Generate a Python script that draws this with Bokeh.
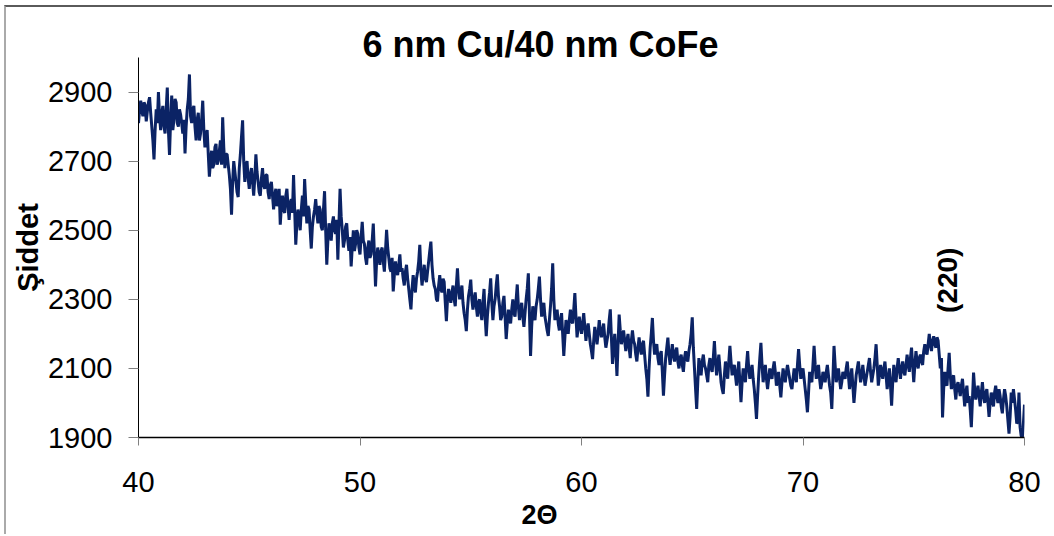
from bokeh.plotting import figure
from bokeh.models import Label, FixedTicker, Range1d, Title
from bokeh.embed import file_html
from bokeh.resources import INLINE
import math

title_text = "6 nm Cu/40 nm CoFe"
x_label = "2\u0398"
y_label = "\u015eiddet"
peak_label = "(220)"
peak_pos = (76.52, 2355)

x_ticks = [40, 50, 60, 70, 80]
y_ticks = [1900, 2100, 2300, 2500, 2700, 2900]

two_theta_start = 40.0
two_theta_step = 0.05

intensity = [
    2810, 2850, 2875, 2845, 2830, 2870, 2862, 2815, 2845, 2870, 2885, 2840, 2800, 2760, 2705, 2790, 2850, 2810, 2900, 2830,  # 40
    2790, 2840, 2860, 2800, 2780, 2850, 2913, 2790, 2718, 2820, 2890, 2790, 2820, 2880, 2870, 2810, 2800, 2850, 2835, 2810,  # 41
    2780, 2820, 2722, 2800, 2850, 2880, 2951, 2830, 2810, 2850, 2860, 2800, 2760, 2820, 2840, 2760, 2780, 2820, 2875, 2790,  # 42
    2740, 2770, 2790, 2720, 2655, 2700, 2730, 2680, 2690, 2740, 2750, 2690, 2700, 2730, 2760, 2690, 2827, 2740, 2680, 2720,  # 43
    2720, 2690, 2660, 2620, 2545, 2640, 2700, 2670, 2640, 2610, 2596, 2680, 2720, 2770, 2818, 2700, 2640, 2690, 2700, 2650,  # 44
    2620, 2660, 2680, 2640, 2600, 2650, 2720, 2670, 2640, 2610, 2600, 2650, 2680, 2630, 2620, 2660, 2660, 2610, 2590, 2630,  # 45
    2640, 2600, 2560, 2600, 2620, 2570, 2580, 2620, 2516, 2570, 2600, 2560, 2550, 2600, 2620, 2570, 2530, 2580, 2590, 2550,  # 46
    2660, 2560, 2458, 2520, 2560, 2530, 2500, 2560, 2600, 2540, 2648, 2580, 2520, 2570, 2560, 2500, 2447, 2510, 2540, 2560,  # 47
    2590, 2550, 2520, 2570, 2560, 2510, 2500, 2560, 2613, 2500, 2400, 2470, 2520, 2500, 2470, 2520, 2540, 2500, 2490, 2530,  # 48
    2415, 2520, 2620, 2540, 2500, 2450, 2470, 2510, 2520, 2470, 2440, 2480, 2395, 2450, 2500, 2440, 2460, 2500, 2490, 2450,  # 49
    2430, 2480, 2524, 2470, 2460, 2420, 2400, 2450, 2470, 2420, 2430, 2470, 2519, 2430, 2337, 2410, 2450, 2420, 2400, 2440,  # 50
    2450, 2410, 2380, 2440, 2501, 2450, 2420, 2390, 2380, 2420, 2323, 2370, 2410, 2380, 2370, 2400, 2430, 2380, 2390, 2360,  # 51
    2340, 2380, 2400, 2360, 2330, 2300, 2271, 2330, 2370, 2340, 2320, 2360, 2380, 2410, 2458, 2380, 2340, 2370, 2400, 2360,  # 52
    2350, 2380, 2410, 2440, 2467, 2400, 2360, 2340, 2330, 2300, 2294, 2340, 2370, 2330, 2320, 2360, 2350, 2290, 2237, 2300,  # 53
    2330, 2310, 2290, 2320, 2340, 2300, 2280, 2340, 2390, 2330, 2300, 2320, 2340, 2290, 2260, 2240, 2208, 2270, 2310, 2330,  # 54
    2357, 2300, 2270, 2300, 2320, 2280, 2250, 2290, 2300, 2260, 2240, 2290, 2330, 2250, 2193, 2250, 2290, 2320, 2361, 2290,  # 55
    2240, 2280, 2300, 2340, 2372, 2310, 2280, 2240, 2250, 2290, 2310, 2250, 2185, 2230, 2270, 2250, 2230, 2270, 2300, 2260,  # 56
    2250, 2300, 2343, 2280, 2240, 2270, 2290, 2250, 2220, 2260, 2300, 2330, 2375, 2260, 2136, 2220, 2280, 2250, 2240, 2280,  # 57
    2300, 2330, 2366, 2300, 2250, 2270, 2290, 2250, 2230, 2210, 2194, 2240, 2280, 2330, 2404, 2300, 2240, 2260, 2270, 2230,  # 58
    2210, 2240, 2260, 2200, 2136, 2190, 2240, 2220, 2200, 2240, 2270, 2240, 2230, 2270, 2318, 2250, 2190, 2220, 2250, 2220,  # 59
    2200, 2230, 2260, 2220, 2180, 2210, 2230, 2200, 2170, 2150, 2127, 2180, 2220, 2200, 2170, 2200, 2240, 2210, 2190, 2210,  # 60
    2230, 2190, 2160, 2180, 2200, 2240, 2271, 2190, 2113, 2160, 2200, 2150, 2078, 2170, 2256, 2210, 2170, 2190, 2210, 2180,  # 61
    2150, 2180, 2200, 2160, 2130, 2180, 2210, 2180, 2170, 2140, 2120, 2160, 2190, 2160, 2140, 2170, 2180, 2140, 2100, 2070,  # 62
    2018, 2100, 2160, 2200, 2246, 2180, 2140, 2160, 2170, 2130, 2110, 2140, 2150, 2090, 2021, 2080, 2130, 2160, 2189, 2140,  # 63
    2110, 2140, 2170, 2140, 2120, 2150, 2160, 2120, 2100, 2130, 2140, 2110, 2090, 2130, 2150, 2130, 2120, 2150, 2170, 2200,  # 64
    2248, 2160, 2100, 2040, 1983, 2060, 2130, 2100, 2080, 2120, 2140, 2110, 2100, 2080, 2060, 2110, 2130, 2100, 2090, 2130,  # 65
    2179, 2120, 2080, 2110, 2140, 2100, 2060, 2040, 2026, 2080, 2120, 2090, 2070, 2120, 2165, 2120, 2080, 2100, 2110, 2080,  # 66
    2050, 2090, 2120, 2060, 2002, 2060, 2100, 2080, 2060, 2110, 2150, 2100, 2070, 2090, 2110, 2070, 2040, 2000, 1954, 2020,  # 67
    2080, 2130, 2174, 2110, 2060, 2090, 2110, 2070, 2040, 2070, 2100, 2080, 2070, 2100, 2120, 2090, 2050, 2070, 2090, 2050,  # 68
    2016, 2060, 2100, 2080, 2060, 2090, 2110, 2090, 2070, 2050, 2040, 2070, 2100, 2080, 2060, 2110, 2156, 2110, 2070, 2090,  # 69
    2100, 2070, 2040, 2010, 1973, 2030, 2090, 2070, 2060, 2110, 2165, 2110, 2070, 2090, 2110, 2070, 2040, 2060, 2090, 2080,  # 70
    2060, 2090, 2110, 2080, 2050, 2030, 1983, 2070, 2165, 2110, 2060, 2080, 2100, 2070, 2040, 2060, 2090, 2080, 2070, 2100,  # 71
    2120, 2080, 2040, 2070, 2100, 2050, 2000, 2040, 2080, 2100, 2120, 2090, 2060, 2080, 2110, 2080, 2050, 2070, 2090, 2110,  # 72
    2130, 2090, 2060, 2080, 2100, 2130, 2170, 2110, 2050, 2080, 2110, 2090, 2070, 2100, 2120, 2080, 2040, 2070, 2100, 2050,  # 73
    1992, 2060, 2110, 2080, 2060, 2100, 2130, 2100, 2070, 2100, 2120, 2090, 2080, 2110, 2140, 2110, 2090, 2130, 2160, 2110,  # 74
    2060, 2110, 2150, 2120, 2100, 2130, 2140, 2120, 2110, 2150, 2170, 2150, 2140, 2170, 2200, 2170, 2150, 2180, 2193, 2170,  # 75
    2160, 2190, 2180, 2140, 2100, 2130, 1958, 2040, 2090, 2060, 2050, 2100, 2145, 2080, 2040, 2070, 2080, 2040, 2010, 2050,  # 76
    2060, 2040, 2020, 2050, 2070, 2030, 1990, 2030, 2050, 2000, 2020, 1980, 1930, 2010, 2088, 2040, 2010, 2030, 2050, 2020,  # 77
    1990, 2030, 2060, 2020, 2000, 2030, 2040, 2000, 1960, 2000, 2030, 2010, 1990, 2030, 2050, 2020, 2000, 2040, 2020, 1990,  # 78
    1970, 2010, 2040, 2020, 1990, 1950, 1911, 1960, 2030, 2000, 2040, 2010, 1980, 1940, 1950, 2030, 1930, 1905, 1897, 1940,  # 79
    1995,                                                                                                                    # 80
]

two_theta = [round(two_theta_start + two_theta_step * i, 3) for i in range(len(intensity))]

FONT = "Liberation Sans"
W, H = 1048, 529

p = figure(width=W, height=H, output_backend="svg", toolbar_location=None,
           x_range=Range1d(40, 80), y_range=Range1d(1900, 3000),
           min_border_left=132, min_border_right=30, min_border_top=50, min_border_bottom=99)
p.outline_line_color = None
p.xgrid.grid_line_color = None
p.ygrid.grid_line_color = None
p.background_fill_color = "white"
p.border_fill_color = "white"

p.line(two_theta, intensity, line_color="#0b2365", line_width=3)

# axes
p.xaxis.ticker = FixedTicker(ticks=x_ticks)
p.yaxis.ticker = FixedTicker(ticks=y_ticks)
for ax in (p.xaxis[0], p.yaxis[0]):
    ax.axis_line_color = "black"
    ax.major_tick_line_color = "#808080"
    ax.major_tick_in = 0
    ax.minor_tick_line_color = None
    ax.major_label_text_font = FONT
    ax.major_label_text_font_size = "29px"
    ax.major_label_text_color = "black"
p.xaxis.axis_line_width = 1.5
p.xaxis.major_tick_out = 8
p.yaxis.major_tick_out = 10
p.xaxis.major_label_standoff = 26
p.yaxis.major_label_standoff = 16

p.yaxis.axis_label = y_label
p.yaxis.axis_label_text_font = FONT
p.yaxis.axis_label_text_font_style = "bold"
p.yaxis.axis_label_text_font_size = "29px"
p.yaxis.axis_label_text_color = "black"
p.yaxis.axis_label_standoff = 1

# title (off-centre in the reference)
p.add_layout(Title(text=title_text, align="left", offset=224, standoff=-14,
                   text_font=FONT, text_font_style="bold", text_font_size="36px",
                   text_color="black"), "above")
# x-axis label as a title below the axis (off-centre in the reference)
p.add_layout(Title(text=x_label, align="left", offset=383, standoff=6,
                   text_font=FONT, text_font_style="bold", text_font_size="27px",
                   text_color="black"), "below")
p.add_layout(Label(x=peak_pos[0], y=peak_pos[1], text=peak_label, angle=math.pi / 2,
                   text_font=FONT, text_font_style="bold", text_font_size="28px",
                   text_align="center", text_baseline="middle", text_color="black"))

p.styles = {"margin-left": "4px", "margin-top": "5px",
            "border-top": "2px solid #5a5a5a", "border-left": "2px solid #aaaaaa"}

open("out.html", "w").write(file_html(p, INLINE))
